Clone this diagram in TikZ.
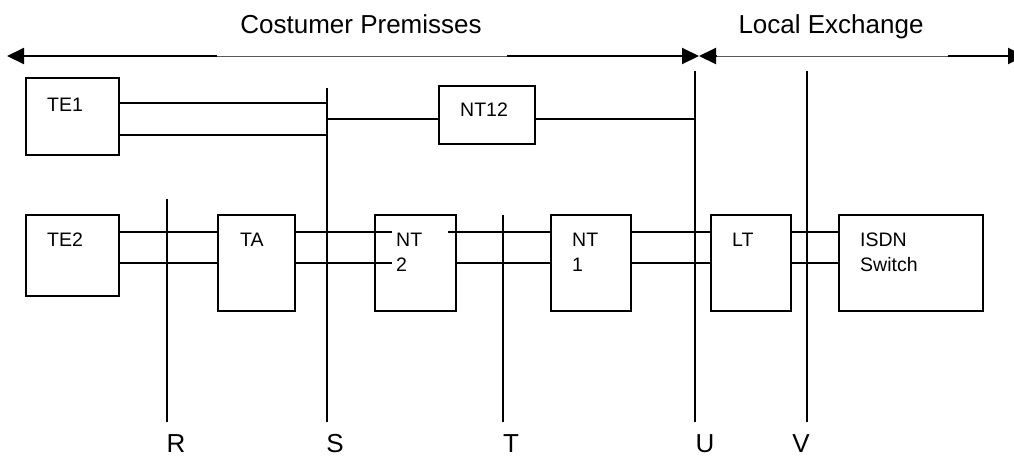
\documentclass[tikz,border=0pt]{standalone}
\usepackage{fontspec}
\setmainfont{Liberation Sans}
\usetikzlibrary{arrows.meta}
\begin{document}
\begin{tikzpicture}[x=1pt,y=-1pt,
  box/.style={draw,line width=1.3pt,inner sep=0pt,outer sep=0pt},
  lbl/.style={anchor=base west,inner sep=0pt,font=\fontsize{19.5}{23}\selectfont},
  big/.style={anchor=base,inner sep=0pt,font=\fontsize{26}{30}\selectfont},
  pointlbl/.style={big,text depth=0pt},
  wire/.style={line width=1.3pt},
  refline/.style={line width=1.3pt},
  thinline/.style={line width=0.8pt,black!65},
  thickarrow/.style={line width=2pt,-{Triangle[length=17pt,width=16pt]}},
  ]
\useasboundingbox (0,0) rectangle (1014,459);
% top scale line
\coordinate (la) at (7,56);
\coordinate (lb) at (217,56);
\coordinate (ma) at (507,56);
\coordinate (mid) at (699,56);
\coordinate (mb) at (716,56);
\coordinate (ra) at (948,56);
\coordinate (rb) at (1025,56);
\draw[thinline] (lb) -- (ma);
\draw[thinline] (mb) -- (ra);
\draw[thickarrow] (lb) -- (la);
\draw[thickarrow] (ma) -- (mid);
\draw[thickarrow] (mb) -- (mid);
\draw[thickarrow] (ra) -- (rb);
\node[big] (cp) at (361,33) {Costumer Premisses};
\node[big] (le) at (831,33) {Local Exchange};
% boxes
\node[box,minimum width=93pt,minimum height=77pt] (te1) at (72.5,116.5) {};
\node[box,minimum width=96pt,minimum height=58pt] (nt12) at (487,115) {};
\node[box,minimum width=93pt,minimum height=81pt] (te2) at (72.5,255.5) {};
\node[box,minimum width=77pt,minimum height=96pt] (ta) at (256.5,263) {};
\node[box,minimum width=81pt,minimum height=96pt] (nt2) at (415.5,263) {};
\node[box,minimum width=80pt,minimum height=96pt] (nt1) at (591,263) {};
\node[box,minimum width=80pt,minimum height=96pt] (lt) at (751,263) {};
\node[box,minimum width=144pt,minimum height=96pt] (isdn) at (911,263) {};
% box texts
\node[lbl] (te1t) at (47,111) {TE1};
\node[lbl] (nt12t) at (460,116) {NT12};
\node[lbl] (te2t) at (47,246) {TE2};
\node[lbl] (tat) at (240,246) {TA};
\node[lbl] (nt2t) at (396,246) {NT};
\node[lbl] (nt2u) at (396,271) {2};
\node[lbl] (nt1t) at (572,246) {NT};
\node[lbl] (nt1u) at (572,271) {1};
\node[lbl] (ltt) at (732,246) {LT};
\node[lbl] (isdnt) at (860,246) {ISDN};
\node[lbl] (isdnu) at (860,271) {Switch};
% reference point lines
\coordinate (Rtop) at (167,199); \coordinate (Rbot) at (167,422);
\coordinate (Stop) at (327,88);  \coordinate (Sbot) at (327,422);
\coordinate (Ttop) at (503,215); \coordinate (Tbot) at (503,422);
\coordinate (Utop) at (695,71);  \coordinate (Ubot) at (695,422);
\coordinate (Vtop) at (807,71);  \coordinate (Vbot) at (807,422);
\foreach \p in {R,S,T,U,V} \draw[refline] (\p top) -- (\p bot);
\node[pointlbl] (Rl) at (176,452) {R};
\node[pointlbl] (Sl) at (335,452) {S};
\node[pointlbl] (Tl) at (511,452) {T};
\node[pointlbl] (Ul) at (705,452) {U};
\node[pointlbl] (Vl) at (801,452) {V};
% wires
\coordinate (y1) at (0,103);
\coordinate (y2) at (0,135);
\coordinate (y3) at (0,119);
\coordinate (yA) at (0,232);
\coordinate (yB) at (0,263);
\draw[wire] (te1.east |- y1) -- (Stop |- y1);
\draw[wire] (te1.east |- y2) -- (Stop |- y2);
\draw[wire] (Stop |- y3) -- (nt12.west |- y3);
\draw[wire] (nt12.east |- y3) -- (Utop |- y3);
\foreach \y in {yA,yB} {
  \draw[wire] (te2.east |- \y) -- (ta.west |- \y);
  \draw[wire] (ta.east |- \y) -- ([xshift=17pt]nt2.west |- \y);
  \draw[wire] (nt1.east |- \y) -- (lt.west |- \y);
  \draw[wire] (lt.east |- \y) -- (isdn.west |- \y);
}
\draw[wire] ([xshift=-8pt]nt2.east |- yA) -- (nt1.west |- yA);
\draw[wire] (nt2.east |- yB) -- (nt1.west |- yB);
\end{tikzpicture}
\end{document}
